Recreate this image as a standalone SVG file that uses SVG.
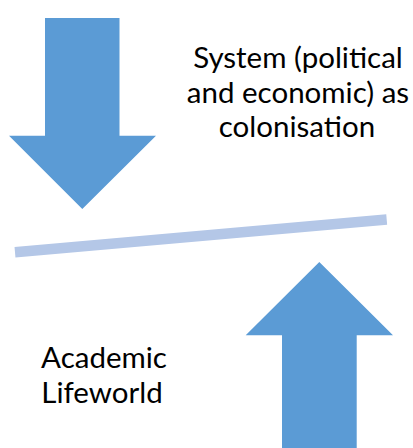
<svg xmlns="http://www.w3.org/2000/svg" width="413" height="448" viewBox="0 0 413 448">
<style>
.arrow{fill:#5B9BD5;}
.lbl{font-family:Lato,"Liberation Sans",sans-serif;font-size:29.5px;fill:#000;text-anchor:middle;}
</style>
<rect width="413" height="448" fill="#fff"/>
<g id="system-arrow">
<polygon class="arrow" points="45,18 119.5,18 119.5,135.7 156,135.7 82.3,209 9,135.7 45,135.7"/>
</g>
<g id="lifeworld-arrow">
<polygon class="arrow" points="319.3,262 393,335.3 356.7,335.3 356.7,448 282,448 282,335.3 245.7,335.3"/>
</g>
<g id="balance-line">
<line x1="15" y1="252.2" x2="386.7" y2="219.5" stroke="#B4C7E7" stroke-width="10.5"/>
</g>
<g id="system-label">
<text class="lbl"><tspan x="298" y="68.3">System (political</tspan><tspan x="298" y="102.5">and economic) as</tspan><tspan x="297" y="136.7">colonisation</tspan></text>
</g>
<g id="lifeworld-label">
<text class="lbl"><tspan x="104" y="368.3">Academic</tspan><tspan x="102" y="402.5">Lifeworld</tspan></text>
</g>
</svg>
